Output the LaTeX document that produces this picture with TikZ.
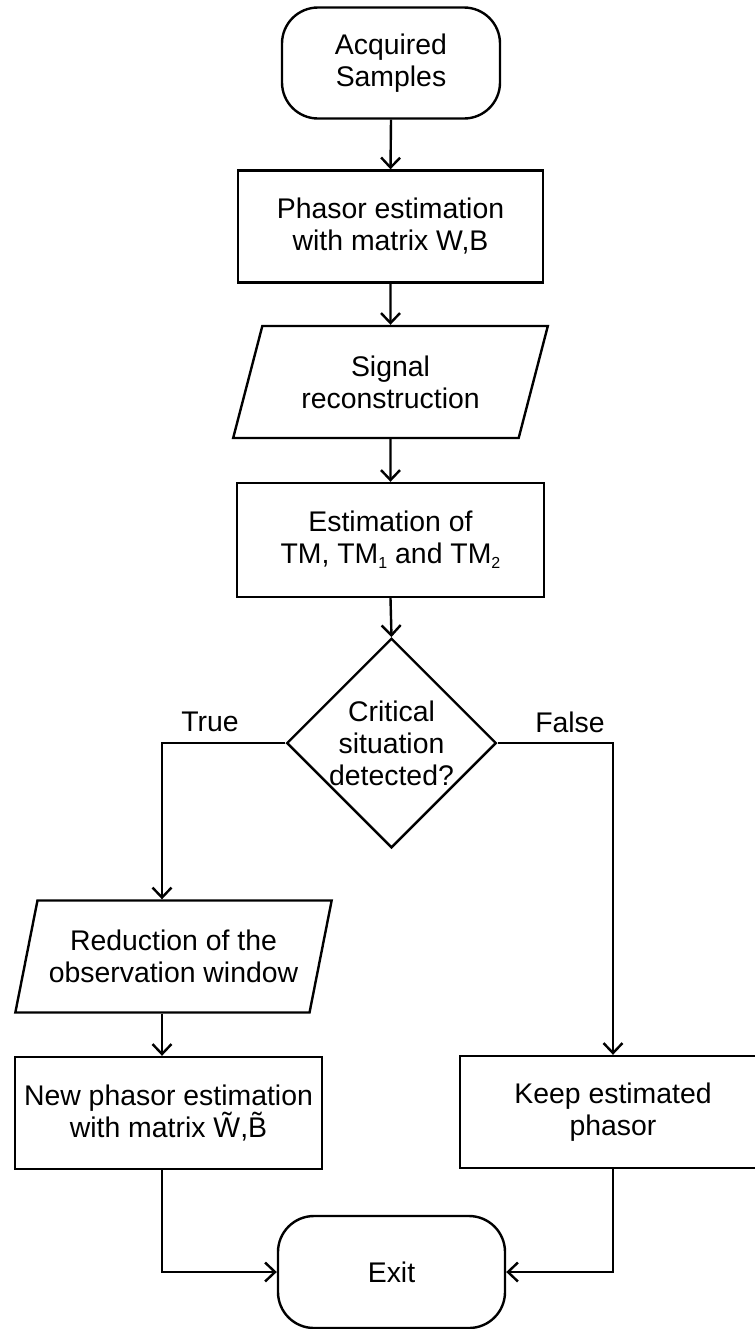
\documentclass[tikz,border=0pt]{standalone}
\usepackage{fontspec}
\setmainfont{Liberation Sans}
\usetikzlibrary{shapes.geometric,arrows.meta}
\newcommand\mysub[1]{\raisebox{-0.35ex}{\fontsize{8pt}{8pt}\selectfont #1}}
\begin{document}
\begin{tikzpicture}[x=0.5pt,y=-0.5pt,
  every node/.style={font=\fontsize{14.2pt}{16pt}\selectfont, align=center, inner sep=0pt},
  box/.style={draw, line width=1.2pt, minimum width=#1*0.5pt, minimum height=56pt},
  term/.style={draw, line width=1.2pt, rounded corners=18pt, minimum width=#1*0.5pt, minimum height=55.5pt},
  para/.style={draw, line width=1.2pt, trapezium, trapezium left angle=69, trapezium right angle=111,
     trapezium stretches=true, minimum width=#1*0.5pt, minimum height=56pt},
  deci/.style={draw, line width=1.2pt, diamond, minimum width=99.5pt, minimum height=100pt},
  conn/.style={line width=1.2pt, -{Straight Barb[length=5pt,width=9.5pt,line width=1.2pt]}},
  lbl/.style={font=\fontsize{14.2pt}{16pt}\selectfont}]
\useasboundingbox (0,0) rectangle (755,1329);
\fill[white] (0,0) rectangle (755,1329);

\node[term=218] (start) at (391,63) {Acquired\\Samples};
\node[box=305] (pe) at (390.5,226.5) {Phasor estimation\\with matrix W,B};
\node[para=315] (sig) at (390.5,382) {Signal\\reconstruction};
\node[box=307, minimum height=57pt] (est) at (390.5,540) {Estimation of\\TM, TM\mysub{1} and TM\mysub{2}};
\node[deci] (dec) at (391.5,743) {Critical\\situation\\detected?};
\node[para=317] (red) at (173.5,956.5) {Reduction of the\\observation window};
\node[box=307] (new) at (168.5,1113) {New phasor estimation\\with matrix \~{W},\~{B}};
\node[box=306] (keep) at (613,1112) {Keep estimated\\phasor};
\node[term=227, minimum height=56pt] (exit) at (391.5,1272) {Exit};

\node[lbl] (ltrue) at (210,722) {True};
\node[lbl] (lfalse) at (570,722) {False};

\coordinate (tl) at (162,743);
\coordinate (fr) at (613,743);

\draw[conn] (start.south) -- (pe.north);
\draw[conn] (pe.south) -- (sig.north);
\draw[conn] (sig.south) -- (est.north);
\draw[conn] (est.south) -- (dec.north);
\draw[conn] (dec.west) -- (tl) -- (tl |- red.north);
\draw[conn] (dec.east) -- (fr) -- (keep.north);
\draw[conn] (tl |- red.south) -- (tl |- new.north);
\draw[conn] (tl |- new.south) |- (exit.west);
\draw[conn] (keep.south) |- (exit.east);
\end{tikzpicture}
\end{document}
